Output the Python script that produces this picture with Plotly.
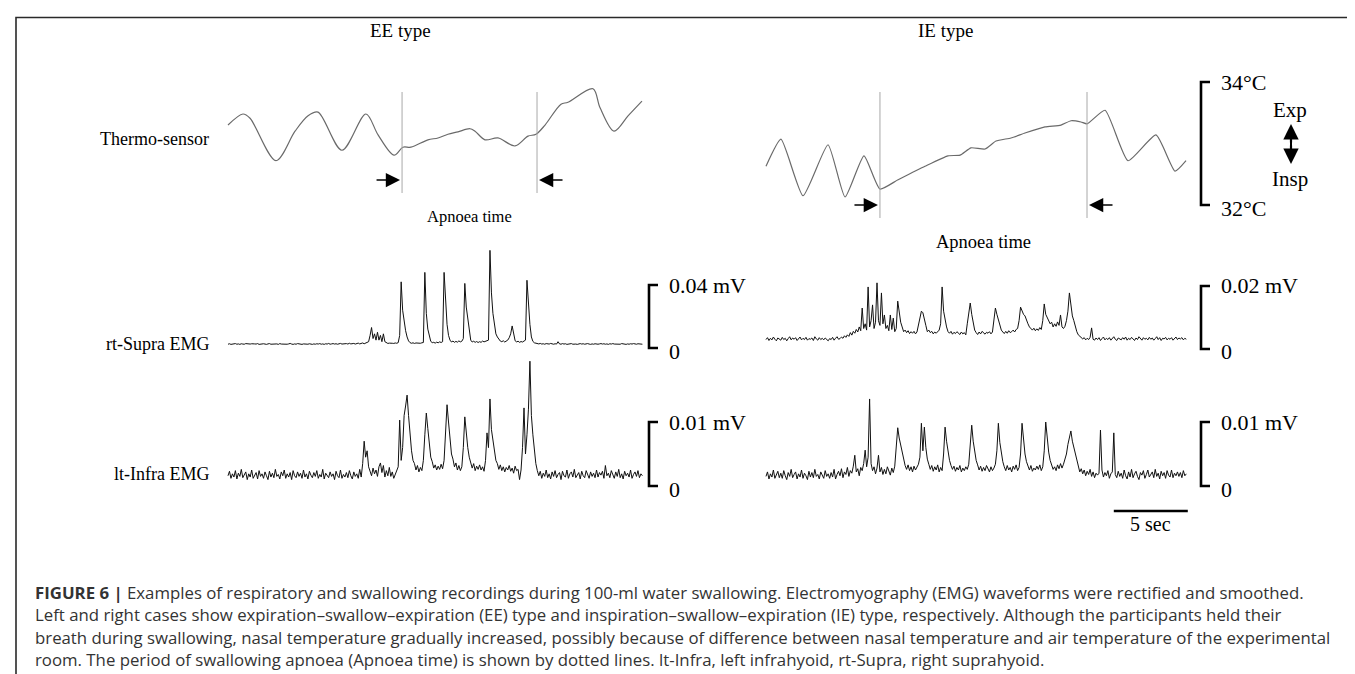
import plotly.graph_objects as go

W, H = 1355, 674
PX_PER_S = 14.8          # horizontal scale: 5 s = 74 px
DT = 0.1                 # EMG sampling interval (s)
SERIF = "Liberation Serif, Times New Roman, serif"
SANS = "Open Sans, Liberation Sans, Arial, sans-serif"

# ---------------- data ----------------
panel_titles = ["EE type", "IE type"]
row_labels = ["Thermo-sensor", "rt-Supra EMG", "lt-Infra EMG"]

# Thermo-sensor (time s, nasal temperature degC)
ee_thermo_t = [0.0, 1.01, 1.49, 3.24, 4.53, 5.41, 6.08, 7.70, 9.32, 10.14, 11.22, 11.82,
               12.36, 13.51, 14.19, 14.86, 15.54, 16.35, 16.69, 17.36, 18.24, 19.39, 20.27,
               20.81, 21.42, 22.50, 22.97, 24.66, 25.14, 26.08, 27.03, 27.97]
ee_thermo_c = [33.30, 33.48, 33.41, 32.72, 33.20, 33.45, 33.51, 32.89, 33.48, 33.14, 32.81, 32.94,
               32.94, 33.06, 33.09, 33.15, 33.19, 33.24, 33.20, 33.06, 33.09, 32.96, 33.12,
               33.15, 33.30, 33.64, 33.67, 33.89, 33.58, 33.20, 33.45, 33.69]
ie_thermo_t = [0.0, 1.01, 2.50, 4.19, 5.34, 6.62, 7.70, 8.92, 10.74, 12.30, 13.11, 13.85, 14.80,
               15.54, 16.55, 17.50, 18.85, 19.93, 20.61, 21.28, 21.69, 22.91, 24.46, 26.35,
               27.64, 28.38]
ie_thermo_c = [32.63, 33.07, 32.15, 32.98, 32.13, 32.80, 32.26, 32.41, 32.63, 32.80, 32.81, 32.93,
               32.91, 33.04, 33.09, 33.17, 33.27, 33.30, 33.37, 33.35, 33.32, 33.54, 32.72,
               33.14, 32.55, 32.72]

# apnoea period (start, end) in s
ee_apnoea = [11.76, 20.88]
ie_apnoea = [7.70, 21.69]

# rectified EMG, microvolts, sampled every DT seconds
ee_supra_uv = [
    2.4, 2.7, 2.3, 2.6, 2.5, 2.8, 2.4, 2.6, 2.3, 2.7,
    2.5, 2.4, 2.8, 2.6, 2.3, 2.5, 2.7, 2.4, 2.6, 2.5,
    2.8, 2.3, 2.6, 2.4, 2.7, 2.5, 2.3, 2.6, 2.8, 2.4,
    2.5, 2.7, 2.4, 2.6, 2.3, 2.8, 2.5, 2.4, 2.7, 2.6,
    2.4, 2.6, 2.9, 2.5, 2.3, 2.6, 2.4, 2.8, 2.5, 2.7,
    2.3, 2.6, 2.5, 2.8, 2.4, 2.7, 2.5, 2.3, 2.6, 2.4,
    2.7, 2.5, 2.8, 2.4, 2.6, 2.3, 2.7, 2.5, 2.9, 2.4,
    2.6, 2.8, 2.5, 2.7, 2.4, 2.6, 2.9, 2.5, 2.7, 2.6,
    2.8, 2.5, 3.0, 2.6, 2.7, 2.9, 2.5, 2.8, 3.1, 2.6,
    2.9, 3.2, 2.7, 3.0, 3.3, 4.0, 8.0, 13.0, 6.0, 9.0,
    5.0, 10.0, 5.0, 8.0, 4.0, 9.0, 4.0, 3.2, 2.9, 3.1,
    2.8, 3.0, 2.9, 3.2, 3.0, 3.4, 8.0, 42.0, 24.0, 17.0,
    11.0, 7.0, 4.5, 3.4, 3.0, 3.3, 2.9, 3.2, 3.0, 3.1,
    3.0, 3.3, 3.5, 48.0, 22.0, 12.0, 7.0, 4.2, 3.4, 3.6,
    3.1, 3.7, 3.3, 3.9, 3.5, 4.0, 48.0, 30.0, 15.0, 8.0,
    5.0, 3.8, 4.4, 3.6, 4.2, 3.7, 4.5, 3.9, 4.3, 6.0,
    41.0, 26.0, 18.0, 9.0, 5.0, 3.8, 4.3, 3.6, 4.1, 3.5,
    4.0, 3.6, 4.4, 3.9, 4.2, 4.6, 5.0, 62.0, 35.0, 22.0,
    14.0, 9.0, 7.0, 5.2, 4.4, 4.0, 4.6, 3.8, 4.3, 5.0,
    6.5, 9.0, 14.0, 8.0, 4.6, 3.9, 4.3, 3.6, 4.1, 3.8,
    4.2, 5.0, 43.0, 25.0, 15.0, 7.0, 4.2, 3.3, 3.0, 2.8,
    2.6, 2.9, 2.5, 2.7, 2.4, 2.8, 2.6, 2.5, 2.9, 2.6,
    2.4, 2.7, 2.5, 4.0, 2.6, 2.4, 2.8, 2.5, 2.7, 2.3,
    2.6, 2.5, 2.8, 2.4, 2.7, 2.5, 2.3, 2.6, 2.8, 2.5,
    2.7, 2.4, 2.6, 2.8, 2.5, 2.3, 2.6, 2.4, 2.7, 2.5,
    2.4, 2.6, 2.8, 2.5, 2.7, 2.4, 2.6, 2.3, 2.7, 2.5,
    2.8, 2.5, 2.4, 2.7, 2.6, 2.4, 2.8, 2.5, 2.6, 2.3,
    2.6, 2.4, 2.7, 2.5, 2.8, 2.6, 2.4, 2.7, 2.5, 2.6,
    2.4]

ee_infra_uv = [
    1.6, 2.3, 1.2, 1.9, 1.4, 2.4, 1.1, 2.0, 1.5, 2.6,
    1.3, 1.8, 2.2, 1.0, 1.9, 1.4, 2.5, 1.2, 1.7, 2.1,
    1.1, 2.4, 1.5, 1.9, 1.2, 2.2, 1.6, 1.0, 2.3, 1.4,
    2.0, 1.3, 2.6, 1.5, 1.8, 1.1, 2.2, 1.6, 2.5, 1.2,
    1.9, 1.4, 2.1, 1.0, 2.4, 1.6, 1.3, 2.2, 1.5, 2.0,
    1.2, 2.5, 1.4, 1.9, 1.1, 2.3, 1.7, 1.3, 2.1, 1.5,
    2.4, 1.2, 1.8, 1.4, 2.6, 1.1, 2.0, 1.6, 1.3, 2.2,
    1.5, 1.9, 1.0, 2.3, 1.6, 1.3, 2.5, 1.2, 1.8, 1.4,
    2.1, 1.3, 2.4, 1.6, 1.1, 2.2, 1.5, 1.9, 1.2, 2.6,
    1.4, 3.5, 7.0, 4.5, 5.5, 3.0, 2.2, 1.6, 2.8, 1.9,
    2.5, 1.5, 3.0, 3.6, 2.1, 3.2, 1.4, 2.4, 1.6, 2.9,
    1.5, 2.2, 1.2, 1.9, 2.6, 3.0, 10.3, 4.0, 6.0, 11.0,
    12.5, 14.2, 11.0, 8.0, 5.5, 4.0, 3.5, 2.5, 3.2, 2.2,
    2.9, 2.4, 4.0, 8.0, 11.4, 9.0, 6.5, 4.5, 3.8, 2.8,
    3.3, 2.5, 3.1, 2.6, 3.4, 2.7, 4.0, 9.0, 12.7, 10.0,
    7.5, 5.0, 4.2, 3.0, 3.6, 2.5, 3.2, 2.4, 3.0, 6.0,
    10.8, 8.0, 6.0, 4.5, 3.4, 2.8, 3.5, 2.4, 3.1, 2.6,
    3.3, 2.5, 3.0, 2.3, 4.0, 8.3, 6.0, 13.6, 8.8, 7.0,
    5.0, 4.0, 3.5, 2.6, 3.3, 2.4, 3.0, 2.2, 2.9, 2.5,
    3.2, 2.3, 2.8, 2.0, 3.1, 2.4, 2.6, 1.0, 2.5, 6.0,
    12.2, 5.0, 8.0, 12.0, 19.5, 11.0, 8.0, 5.5, 3.5, 2.4,
    1.6, 2.3, 1.2, 2.0, 1.5, 2.5, 1.3, 1.9, 1.1, 2.2,
    1.5, 2.4, 1.3, 1.8, 2.1, 1.0, 2.3, 1.6, 1.4, 2.5,
    1.2, 1.9, 2.2, 1.4, 2.6, 1.3, 1.7, 2.1, 1.1, 2.3,
    1.6, 1.3, 2.4, 1.8, 1.2, 2.2, 1.5, 2.0, 1.3, 2.5,
    1.4, 2.1, 1.7, 2.3, 1.2, 3.2, 1.6, 2.0, 1.3, 2.4,
    1.8, 1.2, 2.2, 1.5, 2.6, 1.3, 1.9, 1.1, 2.3, 1.6,
    2.0, 1.4, 2.5, 1.2, 1.8, 2.2, 1.5, 2.4, 1.3, 1.9,
    1.6]

ie_supra_uv = [
    3.0, 3.6, 2.7, 3.4, 2.9, 3.8, 3.1, 2.6, 3.5, 3.2,
    2.8, 3.7, 3.0, 3.4, 2.6, 3.3, 3.9, 2.9, 3.5, 3.1,
    3.6, 2.7, 3.2, 3.8, 2.9, 3.4, 3.0, 3.7, 2.8, 3.3,
    3.1, 3.5, 2.7, 3.9, 3.2, 2.8, 3.6, 3.0, 3.4, 2.9,
    3.5, 3.1, 2.6, 3.3, 3.0, 3.7, 2.8, 3.4, 3.9, 3.1,
    3.3, 3.8, 3.4, 4.2, 3.7, 4.5, 4.0, 5.2, 4.4, 5.6,
    5.0, 6.2, 5.4, 7.0, 5.8, 13.0, 6.5, 8.0, 6.0, 19.7,
    7.0, 9.0, 14.0, 6.5, 8.5, 21.0, 9.0, 7.5, 17.8, 8.0,
    10.8, 6.5, 7.5, 5.8, 10.8, 6.2, 9.8, 5.5, 6.5, 15.2,
    11.0, 8.5, 7.0, 5.5, 6.0, 5.2, 5.8, 4.9, 5.5, 5.0,
    5.6, 4.8, 5.4, 8.0, 10.0, 12.0, 11.5, 9.0, 7.5, 5.5,
    6.0, 5.2, 5.6, 4.8, 5.4, 5.0, 5.7, 6.0, 8.0, 19.7,
    12.0, 9.0, 7.0, 5.5, 5.0, 5.6, 4.7, 5.3, 4.9, 5.5,
    5.0, 4.6, 5.4, 4.8, 5.2, 4.5, 8.0, 11.0, 14.6, 11.0,
    8.0, 6.0, 5.2, 4.6, 5.4, 4.8, 5.6, 5.0, 4.7, 5.3,
    5.0, 5.5, 4.8, 5.4, 9.0, 13.0, 11.0, 9.5, 7.5, 6.0,
    5.4, 4.9, 5.6, 5.0, 5.8, 5.2, 5.5, 6.0, 5.4, 6.2,
    6.5, 9.0, 13.3, 12.0, 11.0, 10.5, 9.0, 8.0, 7.0, 6.5,
    6.0, 6.6, 5.8, 6.4, 5.9, 6.8, 6.2, 9.0, 14.3, 11.0,
    10.0, 9.0, 8.0, 8.5, 7.0, 8.0, 7.2, 8.6, 7.5, 10.8,
    7.0, 6.5, 7.2, 9.0, 12.0, 17.8, 13.0, 10.5, 9.0, 7.0,
    5.5, 4.5, 4.0, 3.5, 3.2, 3.6, 2.9, 3.4, 3.0, 3.7,
    6.7, 3.1, 2.8, 3.5, 3.0, 3.6, 2.7, 3.3, 3.8, 2.9,
    3.4, 3.0, 3.6, 2.8, 3.3, 3.9, 3.1, 2.7, 3.5, 3.2,
    2.9, 3.6, 3.1, 3.8, 2.8, 3.4, 3.0, 3.7, 3.2, 2.7,
    3.5, 3.0, 3.9, 3.2, 2.8, 3.6, 3.1, 3.4, 2.9, 3.7,
    3.1, 3.5, 2.8, 3.3, 3.9, 3.0, 3.6, 2.7, 3.4, 3.2,
    3.7, 2.9, 3.4, 3.1, 3.6, 2.8, 3.3, 3.8, 3.0, 3.5,
    3.2, 3.6, 2.9, 3.4, 3.1]

ie_infra_uv = [
    1.5, 2.2, 1.1, 1.9, 1.4, 2.5, 1.2, 1.8, 2.3, 1.3,
    2.0, 1.2, 2.4, 1.6, 1.0, 2.1, 1.5, 2.6, 1.3, 1.8,
    2.2, 1.1, 1.9, 1.4, 2.5, 1.2, 2.0, 1.6, 1.0, 2.3,
    1.4, 2.1, 1.3, 2.6, 1.5, 1.8, 1.1, 2.2, 1.7, 1.2,
    2.4, 1.5, 1.9, 1.2, 2.1, 1.4, 2.6, 1.1, 1.8, 2.3,
    1.6, 2.7, 1.3, 2.2, 1.8, 2.9, 1.5, 2.4, 2.0, 3.1,
    4.8, 2.2, 2.7, 1.6, 2.9, 2.4, 3.5, 5.6, 3.0, 4.5,
    13.6, 3.5, 2.4, 3.0, 1.9, 2.8, 4.8, 2.2, 2.9, 1.8,
    2.6, 1.9, 3.0, 2.3, 1.7, 2.8, 2.1, 3.1, 6.0, 9.1,
    7.5, 6.4, 5.0, 4.0, 3.2, 2.6, 3.3, 2.4, 3.0, 2.2,
    3.1, 2.5, 2.9, 3.4, 4.5, 9.8, 5.5, 9.2, 6.0, 4.2,
    3.4, 2.6, 3.2, 2.3, 3.0, 2.5, 3.3, 2.2, 2.9, 2.4,
    5.0, 9.2, 7.0, 5.0, 4.0, 3.2, 2.6, 3.1, 2.3, 2.9,
    2.5, 3.2, 2.2, 2.8, 2.4, 3.0, 2.6, 3.4, 6.0, 9.5,
    7.0, 5.2, 4.0, 3.3, 2.5, 3.1, 2.3, 2.9, 2.4, 3.2,
    2.6, 2.2, 3.0, 2.4, 2.8, 3.4, 5.5, 9.8, 6.8, 4.8,
    3.8, 3.0, 2.4, 3.2, 2.5, 2.9, 2.2, 3.1, 2.6, 3.3,
    2.4, 2.9, 5.0, 9.8, 7.0, 5.0, 3.8, 3.0, 2.5, 3.2,
    2.3, 2.8, 2.5, 3.1, 2.6, 3.3, 2.4, 3.0, 5.5, 10.0,
    7.2, 5.3, 4.0, 3.2, 2.6, 3.0, 2.4, 3.3, 2.7, 3.5,
    2.8, 3.4, 4.2, 5.0, 6.5, 7.5, 8.6, 7.0, 6.0, 5.0,
    3.8, 3.0, 2.2, 2.7, 1.9, 2.5, 1.6, 2.3, 1.8, 2.6,
    1.5, 2.2, 1.3, 2.0, 1.7, 2.0, 8.75, 2.5, 1.4, 2.1,
    1.6, 2.4, 1.2, 1.9, 2.2, 8.3, 1.8, 1.3, 2.3, 1.5,
    2.0, 1.2, 2.5, 1.6, 1.1, 2.2, 1.4, 2.6, 1.3, 1.9,
    2.3, 1.5, 1.0, 2.1, 1.7, 2.4, 1.2, 1.8, 2.5, 1.4,
    1.9, 2.2, 1.3, 2.6, 1.5, 2.0, 1.1, 2.3, 1.6, 2.1,
    1.2, 2.4, 1.7, 1.4, 2.5, 1.3, 2.0, 1.6, 2.2, 1.5,
    2.1, 1.3, 2.4, 1.6, 1.9]

# scale bars: (value, label)
thermo_scale = [(34, "34°C"), (32, "32°C")]
ee_supra_scale = [(40, "0.04 mV"), (0, "0")]
ie_supra_scale = [(20, "0.02 mV"), (0, "0")]
ee_infra_scale = [(10, "0.01 mV"), (0, "0")]
ie_infra_scale = [(10, "0.01 mV"), (0, "0")]
time_bar = (23.5, 28.5, "5 sec")

caption_lines = [
    "<b>FIGURE 6 |</b> Examples of respiratory and swallowing recordings during 100-ml water swallowing. Electromyography (EMG) waveforms were rectified and smoothed.",
    "Left and right cases show expiration–swallow–expiration (EE) type and inspiration–swallow–expiration (IE) type, respectively. Although the participants held their",
    "breath during swallowing, nasal temperature gradually increased, possibly because of difference between nasal temperature and air temperature of the experimental",
    "room. The period of swallowing apnoea (Apnoea time) is shown by dotted lines. lt-Infra, left infrahyoid, rt-Supra, right suprahyoid.",
]

# ---------------- layout helpers ----------------
def px2x(px):
    return px / W

def px2y(px):
    return 1 - px / H

def xdomain(left_px, tmin, tmax):
    return [px2x(left_px + PX_PER_S * tmin), px2x(left_px + PX_PER_S * tmax)]

def ydomain(px_ref, v_ref, ppu, vmin, vmax):
    return [px2y(px_ref - ppu * (vmin - v_ref)), px2y(px_ref - ppu * (vmax - v_ref))]

T_RANGE = [-0.4, 28.7]
LEFT_PX, RIGHT_PX = 220, 758
# (axis index, left px, y px of ref value, ref value, px per unit, y range)
panels = {
    1: (LEFT_PX, 197, 32, 61.5, [31.7, 34.3]),
    2: (RIGHT_PX, 197, 32, 61.5, [31.7, 34.3]),
    3: (LEFT_PX, 340, 0, 63 / 40, [-3, 70]),
    4: (RIGHT_PX, 341, 0, 63 / 20, [-2, 24]),
    5: (LEFT_PX, 478, 0, 6.4, [-1.5, 21]),
    6: (RIGHT_PX, 478, 0, 6.4, [-1.5, 16]),
}

fig = go.Figure()
layout_axes = {}
for i, (lpx, ypx, vref, ppu, yr) in panels.items():
    xn = "xaxis" if i == 1 else f"xaxis{i}"
    yn = "yaxis" if i == 1 else f"yaxis{i}"
    layout_axes[xn] = dict(domain=xdomain(lpx, *T_RANGE), range=T_RANGE, visible=False,
                           anchor=("y" if i == 1 else f"y{i}"), fixedrange=True)
    layout_axes[yn] = dict(domain=ydomain(ypx, vref, ppu, *yr), range=yr, visible=False,
                           anchor=("x" if i == 1 else f"x{i}"), fixedrange=True)

def ax(i):
    return ("x" if i == 1 else f"x{i}"), ("y" if i == 1 else f"y{i}")

THERMO_COLOR = "#6a6a6a"
EMG_COLOR = "#111111"

# thermo traces
for i, (tt, cc, sm) in {1: (ee_thermo_t, ee_thermo_c, 0.9), 2: (ie_thermo_t, ie_thermo_c, 0.5)}.items():
    xa, ya = ax(i)
    fig.add_trace(go.Scatter(x=tt, y=cc, mode="lines", xaxis=xa, yaxis=ya,
                             line=dict(color=THERMO_COLOR, width=1.2, shape="spline", smoothing=sm),
                             hoverinfo="skip"))

# EMG traces
for i, vals in {3: ee_supra_uv, 4: ie_supra_uv, 5: ee_infra_uv, 6: ie_infra_uv}.items():
    xa, ya = ax(i)
    fig.add_trace(go.Scatter(y=vals, x0=0, dx=DT, mode="lines", xaxis=xa, yaxis=ya,
                             line=dict(color=EMG_COLOR, width=1.0), hoverinfo="skip"))

shapes = []
annotations = []

def label(xpx, ypx, text, size, anchor="center", family=SERIF, color="black"):
    annotations.append(dict(x=px2x(xpx), y=px2y(ypx), xref="paper", yref="paper", text=text,
                            showarrow=False, xanchor=anchor, yanchor="middle",
                            font=dict(family=family, size=size, color=color)))

# frame
shapes.append(dict(type="rect", xref="paper", yref="paper", x0=px2x(8), x1=1.02,
                   y0=px2y(9.5), y1=-0.02, line=dict(color="#2a2a2a", width=1.6)))

# apnoea lines and arrows
for i, ap, ybot, yarrow, ytext, tsize in [(1, ee_apnoea, 185, 172, 197, 16.5),
                                          (2, ie_apnoea, 210, 197, 222, 18.5)]:
    xa, _ = ax(i)
    for t in ap:
        shapes.append(dict(type="line", xref=xa, yref="paper", x0=t, x1=t,
                           y0=px2y(84), y1=px2y(ybot), line=dict(color="#a8a8a8", width=1)))
    for t, off in [(ap[0], -27), (ap[1], 27)]:
        annotations.append(dict(x=t, y=px2y(yarrow), xref=xa, yref="paper", text="",
                                showarrow=True, ax=off, ay=0, arrowhead=2, arrowsize=1.9,
                                arrowwidth=1.5, arrowcolor="black", standoff=2))
    annotations.append(dict(x=(ap[0] + ap[1]) / 2, y=px2y(ytext), xref=xa, yref="paper",
                            text="Apnoea time", showarrow=False, xanchor="center",
                            font=dict(family=SERIF, size=tsize, color="black")))

# scale brackets
def bracket(yref, vtop, vbot, xpx):
    x0, x1 = px2x(xpx), px2x(xpx + 9)
    shapes.append(dict(type="path", xref="paper", yref=yref,
                       path=f"M {x1},{vtop} L {x0},{vtop} L {x0},{vbot} L {x1},{vbot}",
                       line=dict(color="black", width=2.6)))

for i, scale, xpx in [(2, thermo_scale, 1193), (3, ee_supra_scale, 641), (4, ie_supra_scale, 1193),
                      (5, ee_infra_scale, 641), (6, ie_infra_scale, 1193)]:
    _, ya = ax(i)
    bracket(ya, scale[0][0], scale[1][0], xpx)
    for k, (v, lab) in enumerate(scale):
        annotations.append(dict(x=px2x(xpx + 18), y=v, xref="paper", yref=ya, text=lab,
                                showarrow=False, xanchor="left", yanchor="middle",
                                yshift=(-3 if k == 1 else 0),
                                font=dict(family=SERIF, size=22, color="black")))

# Exp / Insp double arrow
label(1282, 102, "Exp", 21)
label(1282, 171, "Insp", 21)
shapes.append(dict(type="line", xref="paper", yref="paper", x0=px2x(1283), x1=px2x(1283),
                   y0=px2y(128), y1=px2y(144), line=dict(color="black", width=2)))
for tip, off in [(116, 20), (156, -20)]:
    annotations.append(dict(x=px2x(1283), y=px2y(tip), xref="paper", yref="paper", text="",
                            showarrow=True, ax=0, ay=off, arrowhead=2, arrowsize=1.4,
                            arrowwidth=2.2, arrowcolor="black"))

# time scale bar
t0, t1, tlab = time_bar
shapes.append(dict(type="line", xref="x6", yref="paper", x0=t0, x1=t1, y0=px2y(503), y1=px2y(503),
                   line=dict(color="black", width=2.4)))
annotations.append(dict(x=(t0 + t1) / 2, y=px2y(529), xref="x6", yref="paper", text=tlab,
                        showarrow=False, xanchor="center",
                        font=dict(family=SERIF, size=20, color="black")))

# titles and row labels
for xpx, txt in zip([392, 938], panel_titles):
    label(xpx, 22, txt, 19)
for ypx, txt in zip([131, 336, 466], row_labels):
    label(203, ypx, txt, 18, anchor="right")

# caption
for ypx, line in zip([584, 606.5, 629, 651.5], caption_lines):
    label(25, ypx, line, 16.8, anchor="left", family=SANS, color="#333333")

fig.update_layout(width=W, height=H, margin=dict(l=0, r=0, t=0, b=0),
                  paper_bgcolor="white", plot_bgcolor="white", showlegend=False,
                  shapes=shapes, annotations=annotations, **layout_axes)

fig.write_html("out.html")
